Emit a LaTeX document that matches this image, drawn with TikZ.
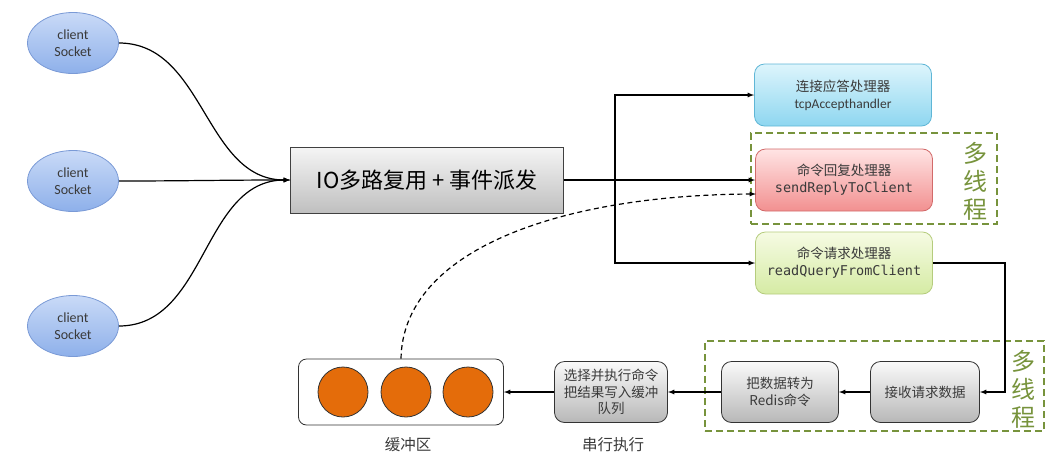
\documentclass[tikz,border=0pt]{standalone}
\usepackage{fontspec}
\setsansfont{Carlito}
\setmonofont{DejaVu Sans Mono}
\newfontfamily\cjk{Noto Sans CJK SC}
\usetikzlibrary{positioning,shapes.geometric,arrows}
\definecolor{socktop}{HTML}{C9DAF7}
\definecolor{sockbot}{HTML}{8EB0EA}
\definecolor{sockline}{HTML}{7A9AD6}
\definecolor{tcptop}{HTML}{DDF5FC}
\definecolor{tcpbot}{HTML}{8ED6F0}
\definecolor{tcpline}{HTML}{5FB6D6}
\definecolor{sendtop}{HTML}{FFE4E4}
\definecolor{sendbot}{HTML}{F29090}
\definecolor{sendline}{HTML}{D26A6A}
\definecolor{readtop}{HTML}{F6FBE3}
\definecolor{readbot}{HTML}{D5EBA4}
\definecolor{readline}{HTML}{B5CC7D}
\definecolor{grpgreen}{RGB}{119,147,60}
\definecolor{ballfill}{HTML}{E46C0A}
\definecolor{txtgray}{HTML}{3A3A3A}
\tikzset{
  sock/.style={ellipse, minimum width=91pt, minimum height=61pt, draw=sockline, thick, top color=socktop, bottom color=sockbot, align=center, text=txtgray, font=\sffamily\fontsize{14}{17}\selectfont},
  mux/.style={rectangle, minimum width=273pt, minimum height=66pt, draw=black!75, thick, top color=black!4, bottom color=black!25, font=\cjk\fontsize{22}{26}\selectfont},
  hdl/.style={rectangle, rounded corners=10pt, minimum width=177pt, minimum height=62pt, thick, align=center, text=txtgray, font=\sffamily\fontsize{13.5}{17}\selectfont},
  stage/.style={rectangle, rounded corners=10pt, minimum width=109pt, minimum height=61pt, draw=black!80, thick, top color=black!2, bottom color=black!28, align=center, text=txtgray, font=\cjk\fontsize{13.5}{16.5}\selectfont},
  buf/.style={rectangle, rounded corners=8pt, minimum width=205pt, minimum height=66pt, draw=black!80, thick, fill=white},
  ball/.style={circle, minimum size=50pt, draw=black!80, thick, fill=ballfill},
  grp/.style={rectangle, draw=grpgreen, line width=1.8pt, dash pattern=on 7pt off 4pt},
  grptxt/.style={text=grpgreen, align=center, font=\cjk\fontsize{24}{28}\selectfont},
  lbl/.style={text=txtgray, font=\cjk\fontsize{15.5}{18}\selectfont},
  arr/.style={-latex, line width=1.2pt},
  line/.style={line width=1.2pt}
}
\begin{document}
\begin{tikzpicture}[x=1pt,y=-1pt]
\useasboundingbox (0,0) rectangle (1063,461);
% clients and multiplexer
\node[sock] (c1) at (73,43) {client\\Socket};
\node[sock] (c2) at (73,181) {client\\Socket};
\node[sock] (c3) at (73,326) {client\\Socket};
\node[mux] (io) at (427,180) {IO多路复用 + 事件派发};
\foreach \c in {c1,c2,c3}
  \draw[arr] (\c.east) to[out=0,in=180] (io.west);

% handlers
\node[hdl, draw=tcpline, top color=tcptop, bottom color=tcpbot] (tcp) at (843,95) {{\cjk 连接应答处理器}\\tcpAccepthandler};
\node[hdl, draw=sendline, top color=sendtop, bottom color=sendbot] (send) at (844,180) {{\cjk 命令回复处理器}\\{\ttfamily sendReplyToClient}};
\node[hdl, draw=readline, top color=readtop, bottom color=readbot] (read) at (844,263) {{\cjk 命令请求处理器}\\{\ttfamily readQueryFromClient}};
\node[grp, minimum width=246pt, minimum height=91pt] (mt1) at (874,178.5) {};
\node[grptxt] (mt1txt) at (975,181) {多\\线\\程};

\coordinate (fork) at (615,180);
\draw[line] (io.east) -- (fork);
\draw[arr] (fork) |- (tcp.west);
\draw[arr] (fork) -- (send.west);
\draw[arr] (fork) |- (read.west);

% bottom chain
\node[grp, minimum width=339pt, minimum height=90pt] (mt2) at (874.5,386) {};
\node[grptxt] (mt2txt) at (1023,389) {多\\线\\程};
\node[stage] (recv) at (925,392) {接收请求数据};
\node[stage, minimum width=117pt] (conv) at (780,392) {把数据转为\\Redis命令};
\node[stage, minimum width=113pt] (exec) at (611,392) {选择并执行命令\\把结果写入缓冲\\队列};
\node[buf] (buf) at (401,392) {};
\foreach \x [count=\i] in {343,406,468}
  \node[ball] (b\i) at (\x,392) {};
\node[lbl] (buflbl) at (408,445) {缓冲区};
\node[lbl] (execlbl) at (613,445) {串行执行};

\draw[arr] (read.east) -- ++(72,0) |- (recv.east);
\draw[arr] (recv) -- (conv);
\draw[arr] (conv) -- (exec);
\draw[arr] (exec) -- (buf);

\coordinate (sendin) at (756,194);
\draw[arr, dash pattern=on 5pt off 3.5pt] (buf.north) .. controls (403,250) and (560,195) .. (sendin);
\end{tikzpicture}
\end{document}
